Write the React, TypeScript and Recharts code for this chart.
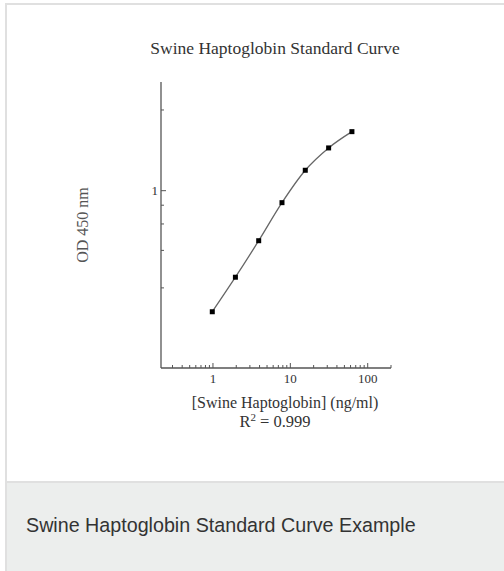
import React from 'react';
import { LineChart, Line, XAxis, YAxis } from 'recharts';

// Standard curve: two-fold dilutions (ng/ml) and OD 450 nm readings
const concentrations = [0.98, 1.95, 3.9, 7.8, 15.6, 31.25, 62.5];
const odValues = [0.156, 0.265, 0.464, 0.832, 1.368, 1.927, 2.474];

const xTicks = [0.3, 0.4, 0.5, 0.6, 0.7, 0.8, 0.9, 1, 2, 3, 4, 5, 6, 7, 8, 9, 10, 20, 30, 40, 50, 60, 70, 80, 90, 100, 200];
const xMajor = [1, 10, 100];
const yTicks = [0.225, 0.4, 0.6, 0.8, 1, 3.45];
const yMajor = [1];

const serif = '"Liberation Serif", "Times New Roman", serif';
const axisColor = '#555';

const data = concentrations.map((c, i) => ({ conc: c, od: odValues[i] }));

const XTick = (props: any) => {
  const { x, y, payload } = props;
  const major = xMajor.includes(payload.value);
  return (
    <g>
      <line x1={x} x2={x} y1={y} y2={y - (major ? 5 : 3)} stroke={axisColor} strokeWidth={1} />
      {major && (
        <text x={x} y={y + 15} textAnchor="middle" fontFamily={serif} fontSize={13} fill="#333">
          {payload.value}
        </text>
      )}
    </g>
  );
};

const YTick = (props: any) => {
  const { x, y, payload } = props;
  const major = yMajor.includes(payload.value);
  return (
    <g>
      <line x1={x} x2={x + (major ? 5 : 3)} y1={y} y2={y} stroke={axisColor} strokeWidth={1} />
      {major && (
        <text x={x - 3} y={y + 4} textAnchor="end" fontFamily={serif} fontSize={13} fill="#333">
          {payload.value}
        </text>
      )}
    </g>
  );
};

const SquareDot = (props: any) => {
  const { cx, cy, index } = props;
  return <rect key={index} x={cx - 2.5} y={cy - 2.5} width={5} height={5} fill="#000" />;
};

const App: React.FC = () => {
  return (
    <div style={{ position: 'absolute', left: 0, top: 0, width: 504, height: 571, overflow: 'hidden', background: '#fff' }}>
      <div
        style={{
          position: 'absolute', left: 5, top: 3, width: 520, height: 480,
          borderTop: '2px solid #e0e0e0', borderLeft: '2px solid #e0e0e0', borderBottom: '2px solid #e0e0e0',
          background: '#fff', boxSizing: 'border-box',
        }}
      />
      <div
        style={{
          position: 'absolute', left: 5, top: 483, width: 520, height: 100,
          borderLeft: '2px solid #e0e0e0', background: '#eceeed', boxSizing: 'border-box',
        }}
      />

      <div style={{ position: 'absolute', left: 0, top: 0 }}>
        <LineChart width={504} height={480} data={data} margin={{ top: 82, right: 113, bottom: 82, left: 121 }}>
          <XAxis
            dataKey="conc"
            type="number"
            scale="log"
            domain={[0.213, 200]}
            allowDataOverflow
            ticks={xTicks}
            interval={0}
            height={30}
            tickSize={0}
            tickMargin={0}
            tickLine={false}
            tick={<XTick />}
            axisLine={{ stroke: axisColor, strokeWidth: 1.3 }}
          />
          <YAxis
            dataKey="od"
            type="number"
            scale="log"
            domain={[0.0658, 5.3]}
            allowDataOverflow
            ticks={yTicks}
            interval={0}
            width={40}
            tickSize={0}
            tickMargin={0}
            tickLine={false}
            tick={<YTick />}
            axisLine={{ stroke: axisColor, strokeWidth: 1.3 }}
          />
          <Line
            type="monotone"
            dataKey="od"
            stroke="#666"
            strokeWidth={1.3}
            dot={<SquareDot />}
            isAnimationActive={false}
          />
        </LineChart>
      </div>

      <div style={{ position: 'absolute', left: 75, top: 37, width: 400, textAlign: 'center', fontFamily: serif, fontSize: 17.5, color: '#333', lineHeight: '22px' }}>
        Swine Haptoglobin Standard Curve
      </div>
      <div
        style={{
          position: 'absolute', left: 83, top: 225, width: 0, height: 0,
        }}
      >
        <div style={{ position: 'absolute', left: -60, top: -9, width: 120, textAlign: 'center', transform: 'rotate(-90deg)', fontFamily: serif, fontSize: 16, color: '#555', lineHeight: '18px', whiteSpace: 'nowrap' }}>
          OD 450 nm
        </div>
      </div>
      <div style={{ position: 'absolute', left: 135, top: 393, width: 300, textAlign: 'center', fontFamily: serif, fontSize: 16, color: '#333', lineHeight: '19px' }}>
        [Swine Haptoglobin] (ng/ml)
      </div>
      <div style={{ position: 'absolute', left: 175, top: 412, width: 200, textAlign: 'center', fontFamily: serif, fontSize: 16.5, color: '#333', lineHeight: '19px' }}>
        R<sup style={{ fontSize: 11, lineHeight: 0 }}>2</sup> = 0.999
      </div>
      <div style={{ position: 'absolute', left: 26, top: 513, fontFamily: '"Liberation Sans", Arial, sans-serif', fontSize: 19.7, color: '#333', lineHeight: '24px', whiteSpace: 'nowrap' }}>
        Swine Haptoglobin Standard Curve Example
      </div>
    </div>
  );
};

export default App;
